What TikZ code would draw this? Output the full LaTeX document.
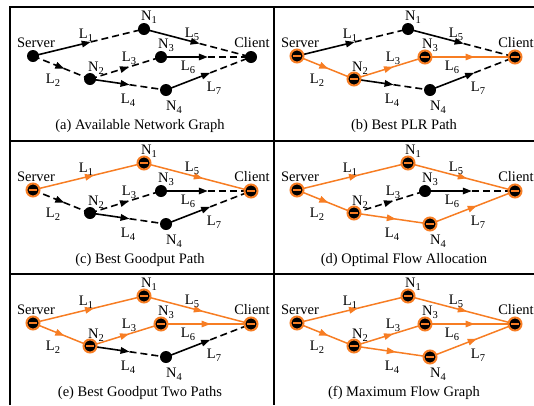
\documentclass[tikz,border=0pt]{standalone}
\usepackage{fontspec}
\setmainfont{Liberation Serif}
\usetikzlibrary{arrows.meta,calc,decorations.markings}
\pgfdeclarelayer{bg}
\pgfsetlayers{bg,main}
\definecolor{orng}{RGB}{247,125,35}
\tikzset{
 nb/.style={circle,fill=black,inner sep=0pt,minimum size=12pt},
 no/.style={circle,fill=black,draw=orng,line width=2pt,inner sep=0pt,minimum size=13pt,
   path picture={\draw[orng,line width=1.2pt] ([xshift=-4pt]path picture bounding box.center) -- ([xshift=4pt]path picture bounding box.center);}},
 lbl/.style={font=\fontsize{14.5}{16}\selectfont,inner sep=0pt},
 bline/.style={line width=1.6pt,black},
 oline/.style={line width=1.5pt,orng},
 dsh/.style={dash pattern=on 7pt off 4pt},
 tip/.style={-{Triangle[length=9pt,width=6.5pt]}},
 midarr/.style={postaction={decorate},decoration={markings,mark=at position 0.55 with {\arrow{Triangle[length=9pt,width=6.5pt]}}}},
 frame/.style={line width=1.5pt},
}
\newcommand\nsub[2]{#1\raisebox{-0.5ex}{\fontsize{10.5}{10.5}\selectfont #2}}
\newcommand\lnko[2]{\draw[oline,midarr] (#1.center) -- (#2.center);}
\newcommand\lnkb[2]{\draw[bline,tip] (#1.center) -- ($(#1.center)!0.52!(#2.center)$);
  \draw[bline,dsh] ($(#1.center)!0.52!(#2.center)$) -- (#2.center);}
\newcommand\lnkd[2]{\draw[bline,dsh,midarr] (#1.center) -- (#2.center);}
\def\setnodes#1#2#3#4#5#6#7#8\relax{%
 \node[n#2] (#1S) at (23,49) {};
 \node[n#3] (#1N1) at (134,22) {};
 \node[n#4] (#1N2) at (80,72) {};
 \node[n#5] (#1N3) at (151,50) {};
 \node[n#6] (#1N4) at (156,83) {};
 \node[n#7] (#1C) at (241,50) {};}
\def\setlinks#1#2#3#4#5#6#7#8#9\relax{%
 \begin{pgfonlayer}{bg}
 \csname lnk#2\endcsname{#1S}{#1N1}%
 \csname lnk#3\endcsname{#1S}{#1N2}%
 \csname lnk#4\endcsname{#1N2}{#1N3}%
 \csname lnk#5\endcsname{#1N2}{#1N4}%
 \csname lnk#6\endcsname{#1N1}{#1C}%
 \csname lnk#7\endcsname{#1N3}{#1C}%
 \csname lnk#8\endcsname{#1N4}{#1C}%
 \end{pgfonlayer}}
\newcommand\drawpanel[6]{%
 \begin{scope}[shift={(#2,#3)}]
  \setnodes{#1}#5\relax
  \setlinks{#1}#6\relax
  \node[lbl] (#1tS) at (26,36) {Server};
  \node[lbl] (#1tN1) at (139,10) {\nsub{N}{1}};
  \node[lbl] (#1tC) at (242,36) {Client};
  \node[lbl] (#1tN2) at (86,61) {\nsub{N}{2}};
  \node[lbl] (#1tN3) at (156,38) {\nsub{N}{3}};
  \node[lbl] (#1tN4) at (164,100) {\nsub{N}{4}};
  \node[lbl] (#1L1) at (76,28) {\nsub{L}{1}};
  \node[lbl] (#1L2) at (43,73) {\nsub{L}{2}};
  \node[lbl] (#1L3) at (119,51) {\nsub{L}{3}};
  \node[lbl] (#1L4) at (118,93) {\nsub{L}{4}};
  \node[lbl] (#1L5) at (182,27) {\nsub{L}{5}};
  \node[lbl] (#1L6) at (178,60) {\nsub{L}{6}};
  \node[lbl] (#1L7) at (204,81) {\nsub{L}{7}};
  \node[lbl] (#1cap) at (130,119) {#4};
 \end{scope}}
\begin{document}
\begin{tikzpicture}[x=1pt,y=-1pt]
\useasboundingbox (0,0) rectangle (534,405);
\draw[frame] (10,405) -- (10,7) -- (534,7);
\draw[frame] (274,7) -- (274,405);
\draw[frame] (10,141) -- (534,141);
\draw[frame] (10,274) -- (534,274);
\drawpanel{a}{10}{7}{(a) Available Network Graph}{b b b b b b}{b d d b b b b}
\drawpanel{b}{274}{7}{(b) Best PLR Path}{o b o o b o}{b o o b b o b}
\drawpanel{c}{10}{141}{(c) Best Goodput Path}{o o b b b o}{o d d b o b b}
\drawpanel{d}{274}{141}{(d) Optimal Flow Allocation}{o o o b o o}{o o d o o b o}
\drawpanel{e}{10}{274}{(e) Best Goodput Two Paths}{o o o o b o}{o o o b o o b}
\drawpanel{f}{274}{274}{(f) Maximum Flow Graph}{o o o o o o}{o o o o o o o}
\end{tikzpicture}
\end{document}
